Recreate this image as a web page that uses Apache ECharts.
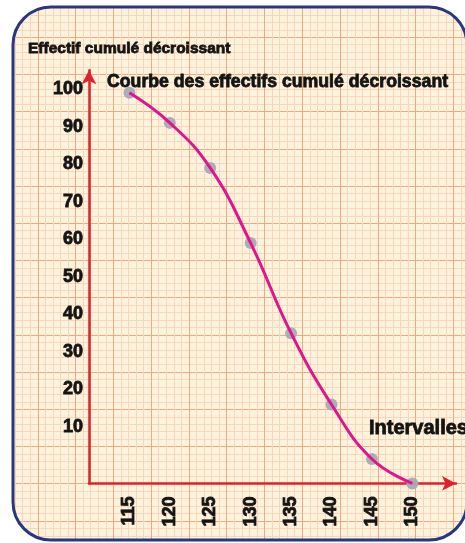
<!DOCTYPE html>
<html>
<head>
<meta charset="utf-8">
<script src="https://cdn.jsdelivr.net/npm/echarts@6/dist/echarts.min.js"></script>
<style>html,body{margin:0;padding:0;background:#fff;}#c{width:465px;height:543px;}</style>
</head>
<body>
<div id="c"></div>
<script>
// ---- data ----
const intervals = [115, 120, 125, 130, 135, 140, 145, 150];
const effectifCumuleDecroissant = [99, 91, 79, 59, 35, 16, 1.5, -5];
const xTickLabels = ['115', '120', '125', '130', '135', '140', '145', '150'];
const yTickLabels = ['10', '20', '30', '40', '50', '60', '70', '80', '90', '100'];
const yAxisTitle = 'Effectif cumulé décroissant';
const chartTitle = 'Courbe des effectifs cumulé décroissant';
const xAxisTitle = 'Intervalles';

const FONT = '"Liberation Sans", Arial, sans-serif';
const INK = '#141414';
const heavy = (size) => ({
  fontFamily: FONT, fontWeight: 'bold', fontSize: size, color: INK,
  textBorderColor: INK, textBorderWidth: 0.8
});

// frame (decorative rounded border of the paper)
const FX0 = 13, FY0 = 7, FX1 = 467, FY1 = 540, FR = 38;
function cornerMask(cx, cy, px, py, a0, a1) {
  const p = [[px, py]];
  const n = 16;
  for (let i = 0; i <= n; i++) {
    const a = a0 + (a1 - a0) * i / n;
    p.push([cx + FR * Math.cos(a), cy + FR * Math.sin(a)]);
  }
  return {type: 'polygon', silent: true, z: 50, shape: {points: p}, style: {fill: '#fff'}};
}
const PI = Math.PI;

const chart = echarts.init(document.getElementById('c'), null, {renderer: 'canvas'});

const pts = intervals.map((x, i) => [x, effectifCumuleDecroissant[i]]);

const option = {
  animation: false,
  backgroundColor: '#fdf3dc',
  title: [
    {text: yAxisTitle, left: 28, top: 41, padding: 0, textStyle: heavy(15.5)},
    {text: chartTitle, left: 107, top: 73, padding: 0, textStyle: heavy(17.7)},
    {text: xAxisTitle, left: 369, top: 418, padding: 0, textStyle: heavy(20)}
  ],
  grid: [
    {left: 89, right: 9, top: 70.3, bottom: 59.6, containLabel: false},
    {left: -32.2, right: 0, top: -23.2, bottom: 0, containLabel: false}
  ],
  xAxis: [
    {
      type: 'value', gridIndex: 0, min: 110, max: 155.4, interval: 5,
      axisLine: {onZero: false, lineStyle: {color: '#e0202a', width: 2.5}, symbol: ['none', 'arrow'], symbolSize: [11, 14]},
      axisTick: {show: false},
      splitLine: {show: false},
      axisLabel: {
        rotate: 90, margin: 13, showMaxLabel: false,
        formatter: (v) => xTickLabels.includes(String(v)) ? String(v) : '',
        ...heavy(18)
      }
    },
    {
      type: 'value', gridIndex: 1, min: 0, max: 497.2, interval: 40.4,
      axisLine: {show: false}, axisTick: {show: false}, axisLabel: {show: false},
      splitLine: {show: true, lineStyle: {color: '#ecaa84', width: 1}},
      minorTick: {show: false, splitNumber: 5},
      minorSplitLine: {show: true, lineStyle: {color: '#f7d6bc', width: 1}}
    }
  ],
  yAxis: [
    {
      type: 'value', gridIndex: 0, min: -5, max: 105, interval: 5,
      axisLine: {show: true, onZero: false, lineStyle: {color: '#e0202a', width: 2.5}, symbol: ['none', 'arrow'], symbolSize: [11, 14]},
      axisTick: {show: false},
      splitLine: {show: false},
      axisLabel: {
        margin: 6,
        formatter: (v) => yTickLabels.includes(String(v)) ? String(v) : '',
        ...heavy(18)
      }
    },
    {
      type: 'value', gridIndex: 1, inverse: true, min: 0, max: 566.2, interval: 38.8,
      axisLine: {show: false}, axisTick: {show: false}, axisLabel: {show: false},
      splitLine: {show: true, lineStyle: {color: '#ecaa84', width: 1}},
      minorTick: {show: false, splitNumber: 5},
      minorSplitLine: {show: true, lineStyle: {color: '#f7d6bc', width: 1}}
    }
  ],
  series: [
    {
      type: 'scatter', xAxisIndex: 0, yAxisIndex: 0, data: pts, z: 1,
      symbolSize: 12, itemStyle: {color: '#a7aab5', opacity: 0.95}
    },
    {
      type: 'line', xAxisIndex: 0, yAxisIndex: 0, data: pts, z: 3,
      smooth: 0.45, showSymbol: false,
      lineStyle: {color: '#e0148c', width: 3}
    }
  ],
  graphic: [
    {type: 'rect', silent: true, z: 50, shape: {x: 0, y: 0, width: FX0, height: 543}, style: {fill: '#fff'}},
    {type: 'rect', silent: true, z: 50, shape: {x: 0, y: 0, width: 465, height: FY0}, style: {fill: '#fff'}},
    {type: 'rect', silent: true, z: 50, shape: {x: 0, y: FY1, width: 465, height: 543 - FY1}, style: {fill: '#fff'}},
    cornerMask(FX0 + FR, FY0 + FR, FX0, FY0, PI, 1.5 * PI),
    cornerMask(FX1 - FR, FY0 + FR, FX1, FY0, 1.5 * PI, 2 * PI),
    cornerMask(FX0 + FR, FY1 - FR, FX0, FY1, 0.5 * PI, PI),
    cornerMask(FX1 - FR, FY1 - FR, FX1, FY1, 0, 0.5 * PI),
    {type: 'rect', silent: true, z: 60, shape: {x: FX0, y: FY0, width: FX1 - FX0, height: FY1 - FY0, r: FR},
      style: {fill: 'none', stroke: '#28377f', lineWidth: 3}}
  ]
};
chart.setOption(option);
</script>
</body>
</html>
